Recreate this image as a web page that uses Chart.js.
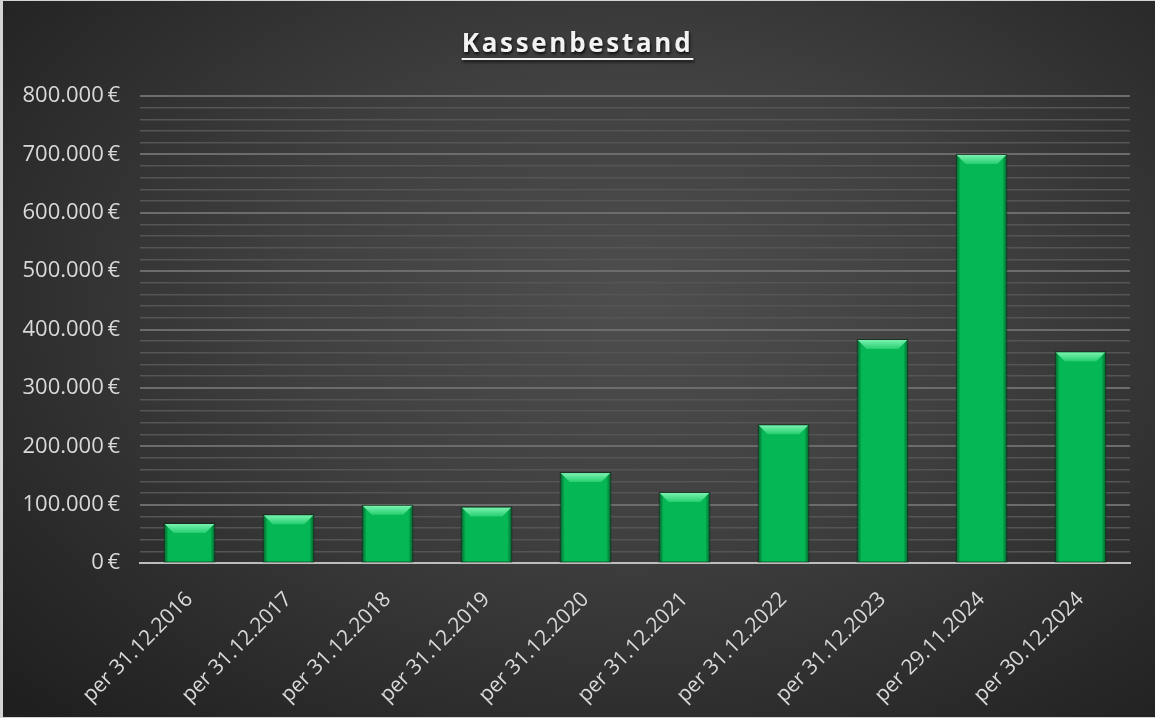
<!DOCTYPE html>
<html>
<head>
<meta charset="utf-8">
<script src="https://cdn.jsdelivr.net/npm/chart.js@4"></script>
<style>
  html, body { margin: 0; padding: 0; background: #1e1e1e; }
  #wrap {
    position: relative; width: 1155px; height: 718px; overflow: hidden;
    background: radial-gradient(ellipse 75% 80% at 55% 42%, #4e4e4e 0%, #404040 40%, #2c2c2c 75%, #1f1f1f 100%);
  }
  #frame {
    position: absolute; left: 0; top: 0; right: 0; bottom: 0; box-sizing: border-box;
    border-left: 3px solid #d4d4d4; border-top: 1px solid #d4d4d4; border-bottom: 1px solid #d4d4d4;
    pointer-events: none;
  }
  #titel {
    position: absolute; left: 0; width: 1155px; top: 24px; text-align: center;
    font-family: "Open Sans", sans-serif; font-weight: bold; font-size: 26px;
    letter-spacing: 2.7px; color: #f2f2f2; text-decoration: underline;
    text-decoration-thickness: 2px; text-underline-offset: 6px;
    text-shadow: 1px 2px 3px rgba(0,0,0,0.8);
  }
  canvas { position: absolute; left: 0; top: 0; }
</style>
</head>
<body>
<div id="wrap">
  <canvas id="grafik" width="1155" height="718"></canvas>
  <div id="titel">Kassenbestand</div>
  <div id="frame"></div>
</div>
<script>
// --- DATEN ---
const stichtage = ['per 31.12.2016', 'per 31.12.2017', 'per 31.12.2018', 'per 31.12.2019', 'per 31.12.2020',
                   'per 31.12.2021', 'per 31.12.2022', 'per 31.12.2023', 'per 29.11.2024', 'per 30.12.2024'];
const bestand = [67000, 82000, 98000, 95000, 154000, 120000, 236000, 382000, 699000, 361000];
const achseMax = 800000;
const hauptSchritt = 100000;
const nebenSchritt = 20000;

function formatEuro(wert) {
    const s = String(Math.round(wert)).replace(/\B(?=(\d{3})+(?!\d))/g, '.');
    return s + '\u2009€';
}

// Bevel-Effekt wie in Excel: helle Oberkante, dunkle Seiten
const bevelPlugin = {
    id: 'bevel',
    afterDatasetsDraw(chart) {
        const ctx = chart.ctx;
        const meta = chart.getDatasetMeta(0);
        meta.data.forEach(bar => {
            const p = bar.getProps(['x', 'y', 'base', 'width'], true);
            const l = p.x - p.width / 2, r = p.x + p.width / 2;
            const t = p.y, b = p.base;
            const bv = Math.min(9, (b - t) / 2);
            ctx.save();
            // Seiten
            const gl = ctx.createLinearGradient(l, 0, l + 4, 0);
            gl.addColorStop(0, 'rgba(0,80,35,0.7)');
            gl.addColorStop(1, 'rgba(0,80,35,0)');
            ctx.fillStyle = gl;
            ctx.fillRect(l, t, 4, b - t);
            const gr = ctx.createLinearGradient(r, 0, r - 4, 0);
            gr.addColorStop(0, 'rgba(0,80,35,0.7)');
            gr.addColorStop(1, 'rgba(0,80,35,0)');
            ctx.fillStyle = gr;
            ctx.fillRect(r - 4, t, 4, b - t);
            // Oberkante
            const g = ctx.createLinearGradient(0, t, 0, t + bv);
            g.addColorStop(0, '#7af2b0');
            g.addColorStop(1, '#26cf70');
            ctx.fillStyle = g;
            ctx.beginPath();
            ctx.moveTo(l, t);
            ctx.lineTo(r, t);
            ctx.lineTo(r - bv, t + bv);
            ctx.lineTo(l + bv, t + bv);
            ctx.closePath();
            ctx.fill();
            // Umriss
            ctx.strokeStyle = 'rgba(0,40,15,0.6)';
            ctx.lineWidth = 1;
            ctx.strokeRect(l - 0.5, t - 0.5, r - l + 1, b - t + 0.5);
            ctx.restore();
        });
    }
};

new Chart(document.getElementById('grafik'), {
    type: 'bar',
    data: {
        labels: stichtage,
        datasets: [{
            label: 'Kassenbestand',
            data: bestand,
            backgroundColor: '#06b855',
            borderWidth: 0,
            categoryPercentage: 1.0,
            barPercentage: 0.5
        }]
    },
    options: {
        responsive: false,
        animation: false,
        layout: { padding: { top: 96, right: 25, bottom: 0, left: 0 } },
        plugins: {
            legend: { display: false },
            tooltip: { enabled: false }
        },
        scales: {
            x: {
                grid: { display: false, drawTicks: false },
                border: { display: true, color: '#bdbdbd', width: 2 },
                afterFit: (s) => { s.height = 155; },
                ticks: {
                    minRotation: 45, maxRotation: 45, padding: 24,
                    color: '#d9d9d9',
                    font: { family: 'Open Sans', size: 21 }
                }
            },
            y: {
                min: 0, max: achseMax,
                afterFit: (s) => { s.width = 140; },
                border: { display: false },
                grid: {
                    drawTicks: false,
                    color: (c) => (c.tick && c.tick.value % hauptSchritt === 0) ? '#6c6c6c' : '#555555',
                    lineWidth: (c) => (c.tick && c.tick.value % hauptSchritt === 0) ? 2 : 1.5
                },
                ticks: {
                    stepSize: nebenSchritt,
                    autoSkip: false,
                    padding: 20,
                    color: '#d9d9d9',
                    font: { family: 'Open Sans', size: 22 },
                    callback: (v) => (v % hauptSchritt === 0) ? formatEuro(v) : ''
                }
            }
        }
    },
    plugins: [bevelPlugin]
});
</script>
</body>
</html>
